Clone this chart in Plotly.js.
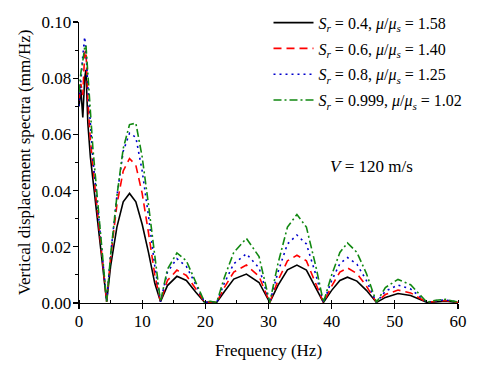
<!DOCTYPE html>
<html>
<head>
<meta charset="utf-8">
<script src="https://cdn.plot.ly/plotly-3.0.1.min.js"></script>
<style>html,body{margin:0;padding:0;background:#fff;}#chart{width:478px;height:368px;}</style>
</head>
<body>
<div id="chart"></div>
<script>
const freq = [0,0.3,0.6,0.9,1.1,1.4,1.8,2.2,2.8,3.4,4.0,4.38,
  5,6,7,8,9,10,11,12,12.9,
  14,15.5,17,18.5,19.9,20.8,21.8,
  23,24.5,26.5,28.5,30.2,
  31.5,33,34.5,36,37.5,38.7,
  40,41.3,42.5,44,45.5,47.1,
  48.5,50.5,52.5,55.1,
  56.5,58,60];

const sr04 = [0.070,0.076,0.066,0.080,0.083,0.064,0.052,0.044,0.032,0.020,0.008,0.0005,
  0.013,0.027,0.036,0.039,0.036,0.028,0.018,0.007,0.0005,
  0.0062,0.0095,0.0080,0.0038,0.0002,0.0003,0.0002,
  0.0040,0.0085,0.0103,0.0073,0.0002,
  0.0063,0.0118,0.0135,0.0117,0.0053,0.0002,
  0.0045,0.0080,0.0092,0.0078,0.0045,0.0002,
  0.0020,0.0034,0.0027,0.0002,
  0.0004,0.0006,0.0002];

const sr06 = [0.072,0.078,0.074,0.089,0.090,0.072,0.058,0.048,0.035,0.022,0.009,0.0005,
  0.016,0.035,0.047,0.0514,0.049,0.039,0.025,0.010,0.0005,
  0.0080,0.0117,0.0098,0.0050,0.0002,0.0004,0.0002,
  0.0055,0.0110,0.0135,0.0095,0.0002,
  0.0080,0.0150,0.0170,0.0150,0.0070,0.0002,
  0.0060,0.0110,0.0125,0.0105,0.0060,0.0002,
  0.0030,0.0046,0.0036,0.0002,
  0.0006,0.0009,0.0002];

const sr08 = [0.070,0.080,0.088,0.0947,0.090,0.077,0.062,0.051,0.038,0.024,0.010,0.0005,
  0.017,0.038,0.054,0.0604,0.059,0.047,0.031,0.013,0.0005,
  0.0110,0.0158,0.0130,0.0065,0.0002,0.0005,0.0002,
  0.0070,0.0140,0.0175,0.0125,0.0002,
  0.0110,0.0210,0.0242,0.0210,0.0100,0.0002,
  0.0080,0.0140,0.0162,0.0138,0.0080,0.0002,
  0.0042,0.0064,0.0050,0.0002,
  0.0008,0.0011,0.0003];

const sr0999 = [0.075,0.082,0.086,0.091,0.0917,0.082,0.066,0.055,0.040,0.026,0.011,0.0005,
  0.017,0.038,0.055,0.0635,0.064,0.052,0.035,0.016,0.0005,
  0.0120,0.0178,0.0150,0.0075,0.0002,0.0006,0.0002,
  0.0090,0.0180,0.0230,0.0165,0.0002,
  0.0140,0.0270,0.0315,0.0270,0.0130,0.0002,
  0.0100,0.0180,0.0214,0.0180,0.0105,0.0002,
  0.0055,0.0084,0.0065,0.0002,
  0.0010,0.0013,0.0003];

const seriesNames = [
  '<i>S</i><sub><i>r</i></sub> = 0.4, <i>μ</i>/<i>μ</i><sub><i>s</i></sub> = 1.58',
  '<i>S</i><sub><i>r</i></sub> = 0.6, <i>μ</i>/<i>μ</i><sub><i>s</i></sub> = 1.40',
  '<i>S</i><sub><i>r</i></sub> = 0.8, <i>μ</i>/<i>μ</i><sub><i>s</i></sub> = 1.25',
  '<i>S</i><sub><i>r</i></sub> = 0.999, <i>μ</i>/<i>μ</i><sub><i>s</i></sub> = 1.02'
];
const seriesVals = [sr04, sr06, sr08, sr0999];
const colors = ['#000000', '#ff0000', '#0000cc', '#118811'];
const dashes = ['solid', '8px,5px', '2px,4px', '8px,3px,2px,3px'];

const traces = seriesVals.map((v, i) => ({
  x: freq, y: v, type: 'scatter', mode: 'lines', name: seriesNames[i],
  legendgroup: 'g' + i,
  line: {color: colors[i], width: 1.6, dash: dashes[i]}
}));

const font = {family: '"Liberation Serif", "Times New Roman", serif', color: '#000', size: 17};

const layout = {
  width: 478, height: 368,
  margin: {l: 79, r: 20, t: 22, b: 65, autoexpand: false},
  paper_bgcolor: '#fff', plot_bgcolor: '#fff',
  font: font,
  showlegend: true,
  legend: {x: 0.5, y: 1.058, xanchor: 'left', yanchor: 'top', bgcolor: 'rgba(0,0,0,0)',
           font: {family: font.family, size: 16, color: '#000'},
           traceorder: 'grouped', tracegroupgap: 2, itemwidth: 40},
  xaxis: {
    range: [0, 60], dtick: 10, tick0: 0, showgrid: false, zeroline: false,
    showline: true, linecolor: '#000', linewidth: 1.3,
    ticks: 'outside', ticklen: 5, tickwidth: 1.2, tickcolor: '#000',
    minor: {dtick: 5, ticks: 'inside', ticklen: 3, tickwidth: 1, tickcolor: '#000', showgrid: false},
    tickfont: font, ticklabelstandoff: -3,
    title: {text: 'Frequency (Hz)', font: font, standoff: 14}
  },
  yaxis: {
    range: [0, 0.1], dtick: 0.02, tick0: 0, tickformat: '.2f', showgrid: false, zeroline: false,
    showline: true, linecolor: '#000', linewidth: 1.3,
    ticks: 'outside', ticklen: 5, tickwidth: 1.2, tickcolor: '#000',
    minor: {dtick: 0.01, ticks: 'outside', ticklen: 3, tickwidth: 1, tickcolor: '#000', showgrid: false},
    tickfont: font, ticklabelstandoff: -2,
    title: {text: 'Vertical displacement spectra (mm/Hz)', font: font, standoff: 6}
  },
  annotations: [{
    x: 46.3, y: 0.0485, xref: 'x', yref: 'y', showarrow: false,
    text: '<i>V</i> = 120 m/s', font: font
  }]
};

Plotly.newPlot('chart', traces, layout, {displayModeBar: false, staticPlot: true});
</script>
</body>
</html>
